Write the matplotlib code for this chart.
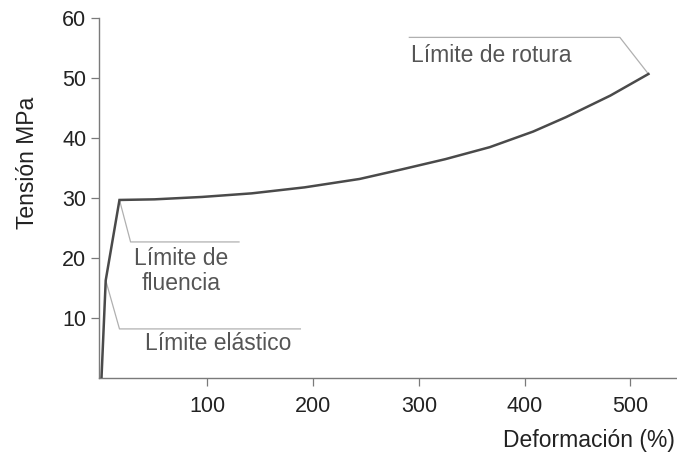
import matplotlib
matplotlib.use("Agg")
import matplotlib.pyplot as plt

plt.rcParams['font.family'] = ['Liberation Sans', 'DejaVu Sans']

# curva tensión-deformación
strain = [0, 4, 17, 50, 95, 142, 192, 244, 284, 325, 367, 408, 439, 481, 517]
stress = [0, 16.3, 29.7, 29.8, 30.2, 30.8, 31.8, 33.2, 34.8, 36.5, 38.5, 41.1, 43.5, 47.1, 50.7]

x_ticks = [100, 200, 300, 400, 500]
y_ticks = [10, 20, 30, 40, 50, 60]

i_elastic, i_yield, i_break = 1, 2, len(strain) - 1

line_col = '#4a4a4a'
lead_col = '#b0b0b0'
text_col = '#555555'
axis_col = '#7a7a7a'

fig = plt.figure(figsize=(6.77, 4.55), dpi=100)
ax = fig.add_axes([0.146, 0.169, 0.854, 0.791])

ax.plot(strain, stress, color=line_col, lw=1.8, solid_joinstyle='miter', zorder=3)

# líneas guía de las anotaciones
ax.plot([strain[i_yield], 27.5, 130], [stress[i_yield], 22.7, 22.7], color=lead_col, lw=0.9)
ax.plot([strain[i_elastic], 17, 188], [stress[i_elastic], 8.2, 8.2], color=lead_col, lw=0.9)
ax.plot([strain[i_break], 490, 291], [stress[i_break], 56.8, 56.8], color=lead_col, lw=0.9)

ax.text(75, 17.8, 'Límite de\nfluencia', ha='center', va='center', fontsize=16.5,
        color=text_col, linespacing=1.1)
ax.text(41, 5.8, 'Límite elástico', ha='left', va='center', fontsize=16.5, color=text_col)
ax.text(293, 53.7, 'Límite de rotura', ha='left', va='center', fontsize=16.5, color=text_col)

ax.set_xlim(-2.5, 544)
ax.set_ylim(0, 60)
ax.set_xticks(x_ticks)
ax.set_yticks(y_ticks)
ax.tick_params(axis='both', direction='out', length=6, width=0.9, color=axis_col,
               labelsize=15.5, labelcolor='#222222')
ax.tick_params(axis='x', pad=7)
ax.tick_params(axis='y', pad=3)

for s in ['top', 'right']:
    ax.spines[s].set_visible(False)
for s in ['left', 'bottom']:
    ax.spines[s].set_color(axis_col)
    ax.spines[s].set_linewidth(1.0)

fig.text(27 / 677, 1 - 163 / 455, 'Tensión MPa', rotation=90, ha='center', va='center',
         fontsize=16.5, color='#222222')
fig.text(675 / 677, 1 - 441 / 455, 'Deformación (%)', ha='right', va='center',
         fontsize=16.5, color='#222222')

fig.savefig('out.png', dpi=100)
